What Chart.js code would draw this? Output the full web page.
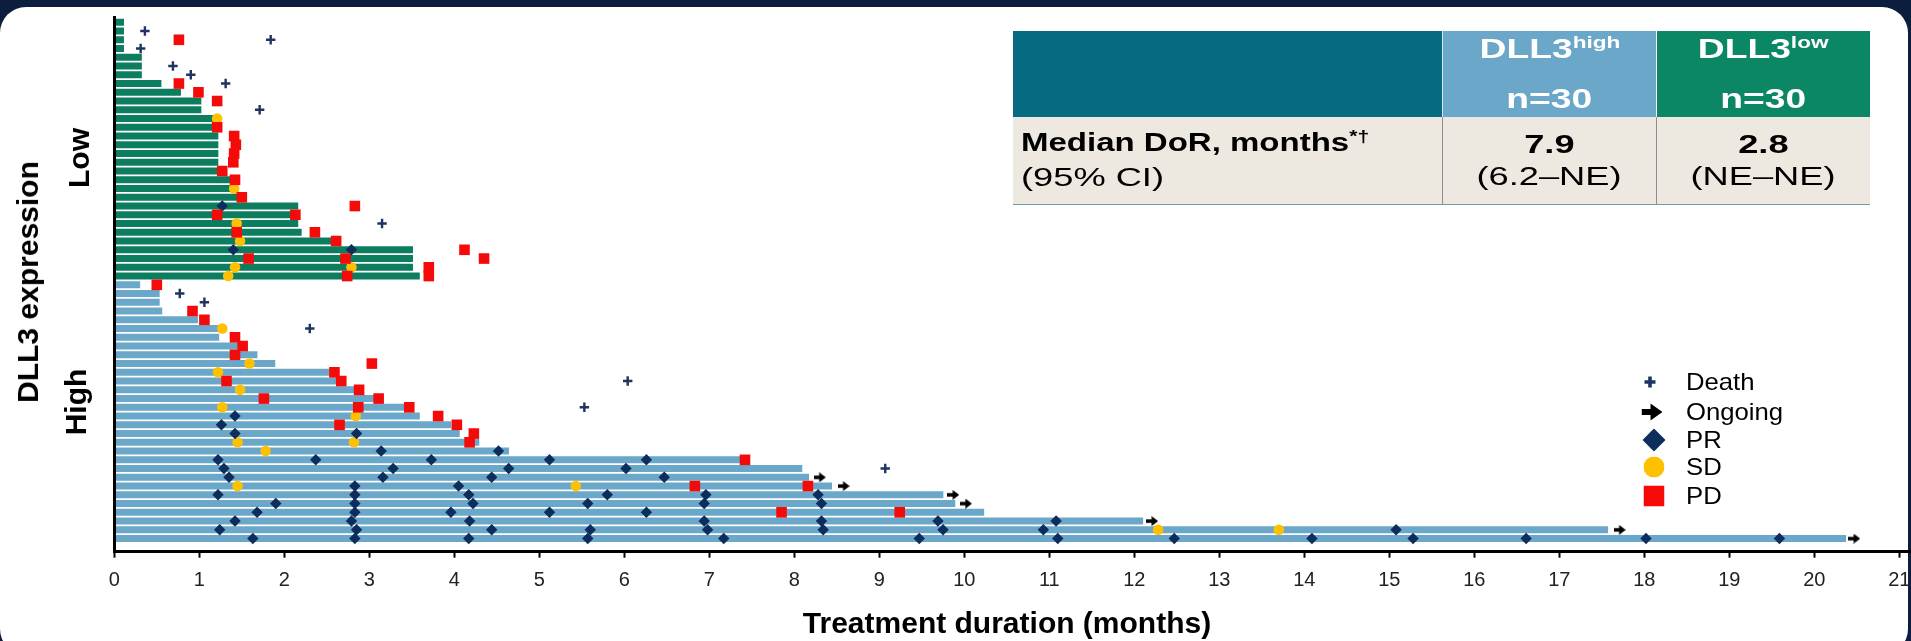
<!DOCTYPE html>
<html>
<head>
<meta charset="utf-8">
<script src="https://cdn.jsdelivr.net/npm/chart.js@4.4.1/dist/chart.umd.min.js"></script>
<style>
html,body{margin:0;padding:0;width:1911px;height:641px;overflow:hidden;background:#0b1e3d;font-family:'Liberation Sans',Arial,sans-serif;}
#panel{position:absolute;left:0;top:7px;width:1908px;height:648px;background:#fff;border-radius:26px;z-index:0;}
#wrap{position:absolute;left:0;top:0;width:1960px;height:641px;z-index:1;}
.ov{position:absolute;z-index:2;white-space:nowrap;color:#000;}
.rot{transform:translate(-50%,-50%) rotate(-90deg);font-weight:bold;font-size:30px;line-height:30px;}
#xtitle{transform:translate(-50%,-50%);font-weight:bold;font-size:30px;line-height:30px;}
#tbl{position:absolute;left:1013px;top:31px;width:857px;height:174px;z-index:2;}
.cell{position:absolute;box-sizing:border-box;display:flex;flex-direction:column;justify-content:center;}
.hd{color:#fff;font-weight:bold;font-size:28px;line-height:46px;text-align:center;}
.bd{background:#ede9e0;color:#000;font-size:25px;line-height:31.7px;}
.sx{display:inline-block;transform:scaleX(1.33);transform-origin:center;}
.sb{display:inline-block;transform:scaleX(1.45);transform-origin:center;}
.sl{display:inline-block;transform:scaleX(1.45);transform-origin:left center;}
.sup{font-size:17px;position:relative;top:-10px;}
.leg{position:absolute;z-index:2;height:28px;line-height:28px;font-size:24px;color:#000;white-space:nowrap;}
.leg span{display:inline-block;transform:scaleX(1.07);transform-origin:left center;}
.sym{position:absolute;z-index:2;transform:translate(-50%,-50%);}
</style>
</head>
<body>
<div id="panel"></div>
<div id="wrap"><canvas id="c"></canvas></div>

<div class="ov rot" style="left:27.5px;top:282px;">DLL3 expression</div>
<div class="ov rot" style="left:79px;top:158px;">Low</div>
<div class="ov rot" style="left:76px;top:402px;">High</div>
<div class="ov" id="xtitle" style="left:1007px;top:623px;">Treatment duration (months)</div>

<div id="tbl">
  <div class="cell" style="left:0;top:0;width:429px;height:86px;background:#066a80;"></div>
  <div class="cell hd" style="left:429px;top:0;width:214px;height:86px;background:#6ba7c9;border-left:1px solid #d5e6ee;">
    <div><span class="sx">DLL3<span class="sup">high</span></span></div>
    <div><span class="sx">n=30</span></div>
  </div>
  <div class="cell hd" style="left:643px;top:0;width:214px;height:86px;background:#0b8765;border-left:1px solid #ffffff;">
    <div><span class="sx">DLL3<span class="sup">low</span></span></div>
    <div><span class="sx">n=30</span></div>
  </div>
  <div class="cell bd" style="left:0;top:86px;width:429px;height:88px;padding-left:8px;border-bottom:1px solid #6f9aa0;">
    <div><span class="sl" style="transform:scaleX(1.32);"><b>Median DoR, months<span class="sup" style="font-size:16px;top:-9px;">*†</span></b></span></div>
    <div><span class="sl">(95% CI)</span></div>
  </div>
  <div class="cell bd" style="left:429px;top:86px;width:214px;height:88px;text-align:center;border-left:1px solid #8c8c8c;border-bottom:1px solid #6f9aa0;">
    <div><span class="sb"><b>7.9</b></span></div>
    <div><span class="sb">(6.2–NE)</span></div>
  </div>
  <div class="cell bd" style="left:643px;top:86px;width:214px;height:88px;text-align:center;border-left:1px solid #8c8c8c;border-bottom:1px solid #6f9aa0;">
    <div><span class="sb"><b>2.8</b></span></div>
    <div><span class="sb">(NE–NE)</span></div>
  </div>
</div>

<svg class="sym" style="left:1650px;top:381.7px;" width="14" height="14" viewBox="0 0 14 14"><path d="M7 1.5V12.5M1.5 7H12.5" stroke="#1f3560" stroke-width="3.6"/></svg>
<div class="leg" style="left:1686px;top:367.7px;"><span>Death</span></div>
<svg class="sym" style="left:1652px;top:411.7px;" width="21" height="17" viewBox="0 0 21 17"><path d="M0 5.5H9V0L21 8.5L9 17V11.5H0Z" fill="#000"/></svg>
<div class="leg" style="left:1686px;top:397.7px;"><span>Ongoing</span></div>
<svg class="sym" style="left:1654px;top:440px;" width="23" height="23" viewBox="0 0 23 23"><path d="M11.5 0L23 11.5L11.5 23L0 11.5Z" fill="#0d2d5c"/></svg>
<div class="leg" style="left:1686px;top:426px;"><span>PR</span></div>
<svg class="sym" style="left:1654px;top:467.3px;" width="21" height="21" viewBox="0 0 21 21"><circle cx="10.5" cy="10.5" r="10.5" fill="#ffc000"/></svg>
<div class="leg" style="left:1686px;top:453.3px;"><span>SD</span></div>
<svg class="sym" style="left:1654px;top:495.7px;" width="21" height="21" viewBox="0 0 21 21"><rect width="21" height="21" fill="#f50a0a"/></svg>
<div class="leg" style="left:1686px;top:481.7px;"><span>PD</span></div>

<script>
// ---- data ----
const xTickValues = [0,1,2,3,4,5,6,7,8,9,10,11,12,13,14,15,16,17,18,19,20,21];

// treatment duration (months), one value per patient, top to bottom
const lowDurations = [0.11,0.11,0.11,0.11,0.32,0.32,0.32,0.55,0.78,1.02,1.02,1.18,1.18,1.22,1.22,1.22,1.22,1.22,1.36,1.36,1.45,2.16,2.16,2.16,2.20,2.56,3.51,3.51,3.51,3.59];
const highDurations = [0.30,0.53,0.53,0.56,0.98,1.23,1.23,1.46,1.68,1.89,2.53,2.61,2.84,3.10,3.42,3.59,3.96,4.06,4.29,4.64,7.36,8.09,8.17,8.44,9.75,9.89,10.23,12.10,17.57,20.37];

// events: [patient row (1-60, top to bottom), month]
const deathMarks = [[2,0.36],[3,1.84],[4,0.31],[6,0.69],[7,0.90],[8,1.31],[11,1.71],[24,3.15],[32,0.77],[33,1.06],[36,2.30],[42,6.04],[45,5.53],[52,9.07]];
const ongoingMarks = [[53,8.30],[54,8.58],[55,9.87],[56,10.02],[58,12.21],[59,17.71],[60,20.47]];
const prMarks = [[22,1.27],[27,1.40],[27,2.79],[46,1.42],[47,1.26],[48,1.42],[48,2.85],[50,3.14],[50,4.52],
  [51,1.22],[51,2.37],[51,3.73],[51,5.12],[51,6.26],
  [52,1.29],[52,3.28],[52,4.64],[52,6.02],
  [53,1.35],[53,3.16],[53,4.44],[53,6.47],
  [54,2.83],[54,4.05],
  [55,1.22],[55,2.83],[55,4.17],[55,5.80],[55,6.96],[55,8.28],
  [56,1.90],[56,2.83],[56,4.22],[56,5.57],[56,6.94],[56,8.32],
  [57,1.68],[57,2.83],[57,3.96],[57,5.12],[57,6.26],
  [58,1.42],[58,2.79],[58,4.18],[58,6.94],[58,8.32],[58,9.69],[58,11.08],
  [59,1.24],[59,2.85],[59,4.44],[59,5.60],[59,6.98],[59,8.34],[59,9.75],[59,10.93],[59,15.08],
  [60,1.63],[60,2.83],[60,4.17],[60,5.57],[60,7.17],[60,9.47],[60,11.10],[60,12.47],[60,14.09],[60,15.28],[60,16.61],[60,18.02],[60,19.59]];
const sdMarks = [[12,1.21],[20,1.41],[24,1.44],[26,1.48],[29,1.42],[29,2.79],[30,1.34],[36,1.27],[40,1.59],[41,1.22],[43,1.48],[45,1.27],[46,2.84],[49,1.45],[49,2.82],[50,1.78],[54,1.45],[54,5.43],[59,12.28],[59,13.70]];
const pdMarks = [[3,0.76],[8,0.76],[9,0.99],[10,1.21],[13,1.21],[14,1.41],[15,1.43],[16,1.41],[17,1.40],[18,1.27],[19,1.42],[21,1.50],[22,2.83],[23,1.21],[23,2.13],[25,1.44],[25,2.36],[26,2.61],[27,4.12],[28,1.58],[28,2.72],[28,4.35],[29,3.70],[30,2.74],[30,3.70],
  [31,0.50],[34,0.92],[35,1.06],[37,1.42],[38,1.51],[39,1.42],[40,3.03],[41,2.59],[42,1.32],[42,2.67],[43,2.88],[44,1.76],[44,3.11],[45,2.87],[45,3.47],[46,3.81],[47,2.65],[47,4.03],[48,4.23],[49,4.18],[51,7.42],[54,6.83],[54,8.16],[57,7.85],[57,9.24]];

// ---- build ----
// one category per patient row (Low L1..L30, High H1..H30) plus an empty spacer slot above the x axis
const rowLabels = lowDurations.map((d, i) => 'L' + (i + 1))
  .concat(highDurations.map((d, i) => 'H' + (i + 1)), ['']);
const toPts = arr => arr.map(([row, month]) => ({x: month, y: rowLabels[row - 1]}));
const lowBars = lowDurations.map((d, i) => ({x: d, y: rowLabels[i]}));
const highBars = highDurations.map((d, i) => ({x: d, y: rowLabels[lowDurations.length + i]}));

function makeArrow(w, h) {
  const c = document.createElement('canvas');
  c.width = w; c.height = h;
  const g = c.getContext('2d');
  g.fillStyle = '#000';
  g.beginPath();
  g.moveTo(0, h * 0.32); g.lineTo(w * 0.45, h * 0.32); g.lineTo(w * 0.45, 0);
  g.lineTo(w, h / 2); g.lineTo(w * 0.45, h); g.lineTo(w * 0.45, h * 0.68); g.lineTo(0, h * 0.68);
  g.closePath(); g.fill();
  return c;
}
const arrowImg = makeArrow(12, 10);

Chart.defaults.font.family = "'Liberation Sans', Arial, sans-serif";

const markerDs = (data, style, radius, fill, order, extra) => Object.assign({
  type: 'scatter', indexAxis: 'x', data: toPts(data), pointStyle: style, pointRadius: radius,
  pointHoverRadius: radius, pointBackgroundColor: fill, pointBorderColor: fill, pointBorderWidth: 0,
  order: order, clip: false
}, extra || {});

new Chart(document.getElementById('c'), {
  type: 'bar',
  data: {
    labels: rowLabels,
    datasets: [
      {type: 'bar', label: 'DLL3 low', data: lowBars, backgroundColor: '#0c7d5e', borderWidth: 0, barThickness: 6.4, grouped: false, order: 10},
      {type: 'bar', label: 'DLL3 high', data: highBars, backgroundColor: '#6ba7c8', borderWidth: 0, barThickness: 6.4, grouped: false, order: 10},
      markerDs(sdMarks, 'circle', 5.3, '#ffc000', 4),
      markerDs(prMarks, 'rectRot', 5.7, '#0d2d5c', 3),
      markerDs(pdMarks, 'rect', 7.5, '#f50a0a', 2),
      markerDs(deathMarks, 'cross', 4.7, '#1f3560', 1, {pointBorderWidth: 2.4}),
      markerDs(ongoingMarks, arrowImg, 6, '#000', 0)
    ]
  },
  options: {
    indexAxis: 'y',
    responsive: true,
    maintainAspectRatio: false,
    animation: false,
    devicePixelRatio: 1,
    layout: {padding: {left: 114.3, top: 17.9, right: 20, bottom: 48.3}},
    plugins: {legend: {display: false}, tooltip: {enabled: false}},
    scales: {
      x: {
        type: 'linear', min: 0, max: 21.479,
        afterBuildTicks: s => { s.ticks = xTickValues.map(v => ({value: v})); },
        afterFit: s => { s.height = 41; s.paddingLeft = 0; s.paddingRight = 0; },
        ticks: {font: {size: 20}, color: '#222', padding: 11, maxRotation: 0, autoSkip: false},
        grid: {display: true, drawOnChartArea: false, drawTicks: true, tickLength: 6, tickWidth: 2, tickColor: '#000'},
        border: {display: true, color: '#000', width: 3}
      },
      y: {
        type: 'category', offset: true,
        afterFit: s => { s.width = 0; s.paddingTop = 0; s.paddingBottom = 0; },
        ticks: {display: false},
        grid: {display: false, drawTicks: false},
        border: {display: true, color: '#000', width: 3, z: 1}
      }
    }
  }
});
</script>
</body>
</html>
